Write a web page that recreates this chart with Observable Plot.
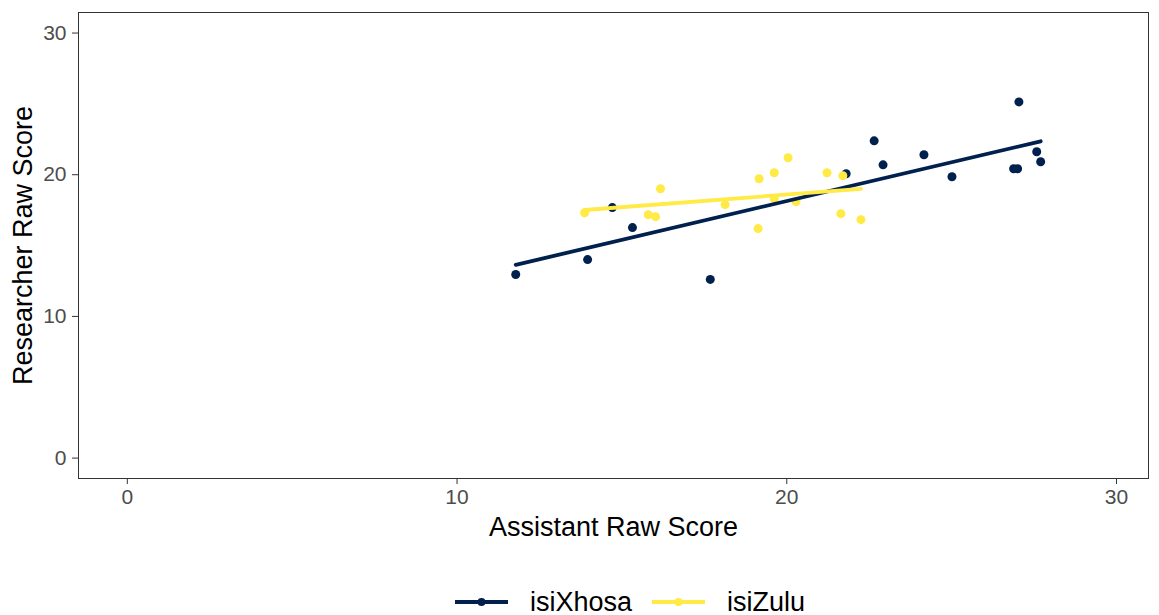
<!DOCTYPE html>
<html>
<head>
<meta charset="utf-8">
<script src="https://cdn.jsdelivr.net/npm/d3@7"></script>
<script src="https://cdn.jsdelivr.net/npm/@observablehq/plot@0.6"></script>
<style>
  html, body { margin: 0; padding: 0; background: white; }
  #legend { display: flex; align-items: center; height: 45px; box-sizing: border-box;
            padding-left: 455px; padding-top: 19px; font-family: "Liberation Sans", Arial, sans-serif;
            font-size: 27px; line-height: 30px; color: #000; }
  #legend svg { display: block; }
</style>
</head>
<body>
<div id="chart"></div>
<div id="legend"></div>
<script>
const languages = ["isiXhosa", "isiZulu"];
const languageColors = ["#00204D", "#FFEA46"];

const xhosaAssistant = [11.78, 13.96, 14.71, 15.32, 17.68, 21.80, 22.65, 22.92, 24.16, 25.01, 26.88, 27.00, 27.04, 27.58, 27.70];
const xhosaResearcher = [12.96, 14.01, 17.68, 16.27, 12.61, 20.07, 22.39, 20.70, 21.41, 19.86, 20.42, 20.42, 25.14, 21.62, 20.92];

const zuluAssistant = [13.87, 15.80, 16.02, 16.17, 18.13, 19.13, 19.16, 19.62, 19.62, 20.04, 20.28, 21.22, 21.64, 21.70, 22.25];
const zuluResearcher = [17.32, 17.18, 17.04, 19.01, 17.89, 16.20, 19.72, 20.14, 18.31, 21.20, 18.10, 20.14, 17.25, 19.93, 16.83];

const xTicks = [0, 10, 20, 30];
const yTicks = [0, 10, 20, 30];
const xTitle = "Assistant Raw Score";
const yTitle = "Researcher Raw Score";

const rows = [
  ...xhosaAssistant.map((a, i) => ({lang: languages[0], assistant: a, researcher: xhosaResearcher[i]})),
  ...zuluAssistant.map((a, i) => ({lang: languages[1], assistant: a, researcher: zuluResearcher[i]}))
];

const chart = Plot.plot({
  width: 1159,
  height: 570,
  marginLeft: 78,
  marginRight: 11,
  marginTop: 12,
  marginBottom: 92,
  x: {domain: [-1.48, 30.97]},
  y: {domain: [-1.44, 31.45]},
  color: {domain: languages, range: languageColors},
  style: {fontFamily: "'Liberation Sans', Arial, sans-serif", fontSize: "21px", background: "white", overflow: "visible"},
  marks: [
    Plot.axisX({ticks: xTicks, tickSize: 6, tickPadding: 5, stroke: "#333333", fill: "#4D4D4D", label: null}),
    Plot.axisY({ticks: yTicks, tickSize: 6, tickPadding: 6, stroke: "#333333", fill: "#4D4D4D", label: null}),
    Plot.dot(rows, {x: "assistant", y: "researcher", fill: "lang", r: 4.5}),
    Plot.linearRegressionY(rows, {x: "assistant", y: "researcher", stroke: "lang", ci: 0, strokeWidth: 3.8}),
    Plot.frame({stroke: "#333333", strokeWidth: 1}),
    Plot.text([xTitle], {frameAnchor: "bottom", dy: 49, lineAnchor: "middle", textAnchor: "middle", text: d => d, fontSize: 27, fill: "black"}),
    Plot.text([yTitle], {frameAnchor: "left", dx: -55, rotate: -90, lineAnchor: "middle", textAnchor: "middle", text: d => d, fontSize: 27, fill: "black"})
  ]
});
document.getElementById("chart").appendChild(chart);

const legend = document.getElementById("legend");
languages.forEach((lang, i) => {
  const ns = "http://www.w3.org/2000/svg";
  const s = document.createElementNS(ns, "svg");
  s.setAttribute("width", 53);
  s.setAttribute("height", 30);
  s.style.marginRight = "22px";
  if (i > 0) s.style.marginLeft = "20px";
  const l = document.createElementNS(ns, "line");
  l.setAttribute("x1", 0); l.setAttribute("x2", 53);
  l.setAttribute("y1", 15); l.setAttribute("y2", 15);
  l.setAttribute("stroke", languageColors[i]);
  l.setAttribute("stroke-width", 3.8);
  s.appendChild(l);
  const c = document.createElementNS(ns, "circle");
  c.setAttribute("cx", 26.5); c.setAttribute("cy", 15); c.setAttribute("r", 4);
  c.setAttribute("fill", languageColors[i]);
  s.appendChild(c);
  legend.appendChild(s);
  const t = document.createElement("span");
  t.textContent = lang;
  legend.appendChild(t);
});
</script>
</body>
</html>
